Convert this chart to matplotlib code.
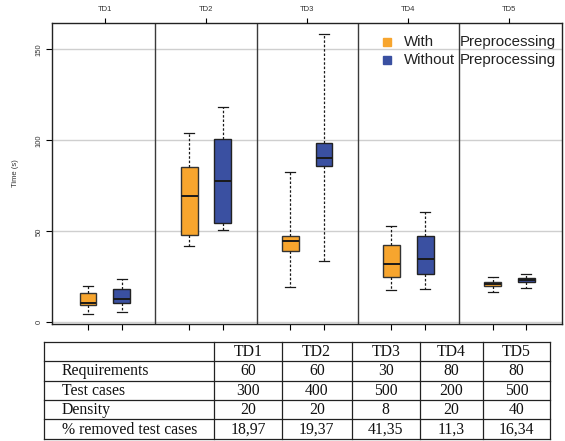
import matplotlib
matplotlib.use("Agg")
import matplotlib.pyplot as plt

# ----- data -----
DATASETS = ["TD1", "TD2", "TD3", "TD4", "TD5"]
SERIES = ["With", "Without"]

# boxplot summaries per dataset: (whislo, q1, median, q3, whishi)
WITH_PRE = [
    (4.4, 9.5, 10.8, 15.9, 20.1),
    (42.1, 47.8, 69.4, 85.5, 104.2),
    (19.6, 39.2, 44.7, 47.4, 82.6),
    (17.7, 24.9, 32.0, 42.5, 53.1),
    (16.5, 19.9, 21.0, 22.0, 25.1),
]
WITHOUT_PRE = [
    (5.5, 10.4, 12.6, 18.1, 23.8),
    (50.9, 54.7, 77.8, 100.9, 118.1),
    (33.7, 85.9, 90.4, 98.7, 158.4),
    (18.1, 26.4, 34.6, 47.6, 60.8),
    (19.0, 22.0, 23.1, 24.2, 26.7),
]

Y_TICKS = [0, 50, 100, 150]

ROW_NAMES = ["Requirements", "Test cases", "Density", "% removed test cases"]
REQUIREMENTS = ["60", "60", "30", "80", "80"]
TEST_CASES = ["300", "400", "500", "200", "500"]
DENSITY = ["20", "20", "8", "20", "40"]
REMOVED_PCT = ["18,97", "19,37", "41,35", "11,3", "16,34"]

ORANGE = "#F7A52E"
BLUE = "#3A50A1"


def to_stats(rows):
    return [dict(whislo=a, q1=b, med=c, q3=d, whishi=e, fliers=[]) for a, b, c, d, e in rows]


fig = plt.figure(figsize=(5.65, 4.41), dpi=100)
ax = fig.add_axes([52.3 / 565, 1 - 323.5 / 441, 509.7 / 565, 300.5 / 441])

pos_with = [3 * i + 1 for i in range(len(DATASETS))]
pos_without = [3 * i + 2 for i in range(len(DATASETS))]

for y in Y_TICKS:
    ax.axhline(y, color="#cfcfcf", lw=1, zorder=0)
for i in range(1, len(DATASETS)):
    ax.axvline(3 * i, color="#3a3a3a", lw=1, zorder=1)

common = dict(widths=0.5, patch_artist=True, showfliers=False,
              medianprops=dict(color="#1a1a1a", lw=1.4),
              whiskerprops=dict(color="#1a1a1a", lw=0.9, linestyle=(0, (2, 1.5))),
              capprops=dict(color="#1a1a1a", lw=0.9),
              capwidths=0.3)
b1 = ax.bxp(to_stats(WITH_PRE), positions=pos_with, **common)
b2 = ax.bxp(to_stats(WITHOUT_PRE), positions=pos_without, **common)
for patch in b1["boxes"]:
    patch.set(facecolor=ORANGE, edgecolor="#333333", lw=1)
for patch in b2["boxes"]:
    patch.set(facecolor=BLUE, edgecolor="#222222", lw=1)

ax.set_xlim(-0.06, 15.06)
ax.set_ylim(-0.66, 164.5)

ax.set_xticks(sorted(pos_with + pos_without))
ax.set_xticklabels([])
ax.tick_params(axis="x", direction="out", length=4, width=0.8)
ax.set_yticks(Y_TICKS)
ax.set_yticklabels([str(v) for v in Y_TICKS], rotation=90, va="center",
                   fontsize=5.5, color="#333333", family="Liberation Sans")
ax.tick_params(axis="y", direction="out", length=4, width=0.8, pad=3)
ax.set_ylabel("Time (s)", fontsize=5.5, color="#333333", family="Liberation Sans", labelpad=12)
for side in ax.spines.values():
    side.set_color("#222222")
    side.set_linewidth(1)

top = ax.twiny()
top.set_xlim(ax.get_xlim())
top.set_xticks([3 * i + 1.5 for i in range(len(DATASETS))])
top.set_xticklabels(DATASETS, fontsize=5.5, color="#333333", family="Liberation Sans")
top.tick_params(axis="x", direction="out", length=3.5, width=0.8, pad=4)
for side in top.spines.values():
    side.set_visible(False)

# legend keys drawn by hand so that "Preprocessing" lines up in a column
for yf, col, lab in [(0.938, ORANGE, "With"), (0.877, BLUE, "Without")]:
    ax.plot([0.656], [yf], marker="s", ms=6, color=col, transform=ax.transAxes,
            clip_on=False, zorder=5)
    ax.text(0.690, yf, lab, transform=ax.transAxes, va="center", fontsize=10.8,
            color="#222222", family="Liberation Sans")
    ax.text(0.800, yf, "Preprocessing", transform=ax.transAxes, va="center",
            fontsize=10.8, color="#222222", family="Liberation Sans")

# ----- table below the chart (pixel coordinates) -----
tab = fig.add_axes([0, 0, 1, 1])
tab.set_xlim(0, 565)
tab.set_ylim(441, 0)
tab.axis("off")

col_edges = [44, 214, 282, 351.5, 420, 483, 550]
row_h = 19.4
top_y = 341.7
rows = [[""] + DATASETS,
        [ROW_NAMES[0]] + REQUIREMENTS,
        [ROW_NAMES[1]] + TEST_CASES,
        [ROW_NAMES[2]] + DENSITY,
        [ROW_NAMES[3]] + REMOVED_PCT]
n_rows = len(rows)
bottom_y = top_y + n_rows * row_h

for r in range(n_rows + 1):
    tab.plot([col_edges[0], col_edges[-1]], [top_y + r * row_h] * 2, color="#222222", lw=0.9)
for x in col_edges:
    tab.plot([x, x], [top_y, bottom_y], color="#222222", lw=0.9)

for r, row in enumerate(rows):
    yc = top_y + (r + 0.5) * row_h + 0.5
    for c, val in enumerate(row):
        if c == 0:
            tab.text(61.5, yc, val, ha="left", va="center", fontsize=11.3,
                     family="Liberation Serif", color="#111111")
        else:
            xc = (col_edges[c] + col_edges[c + 1]) / 2
            tab.text(xc, yc, val, ha="center", va="center", fontsize=11.3,
                     family="Liberation Serif", color="#111111")

fig.savefig("out.png", dpi=100)
